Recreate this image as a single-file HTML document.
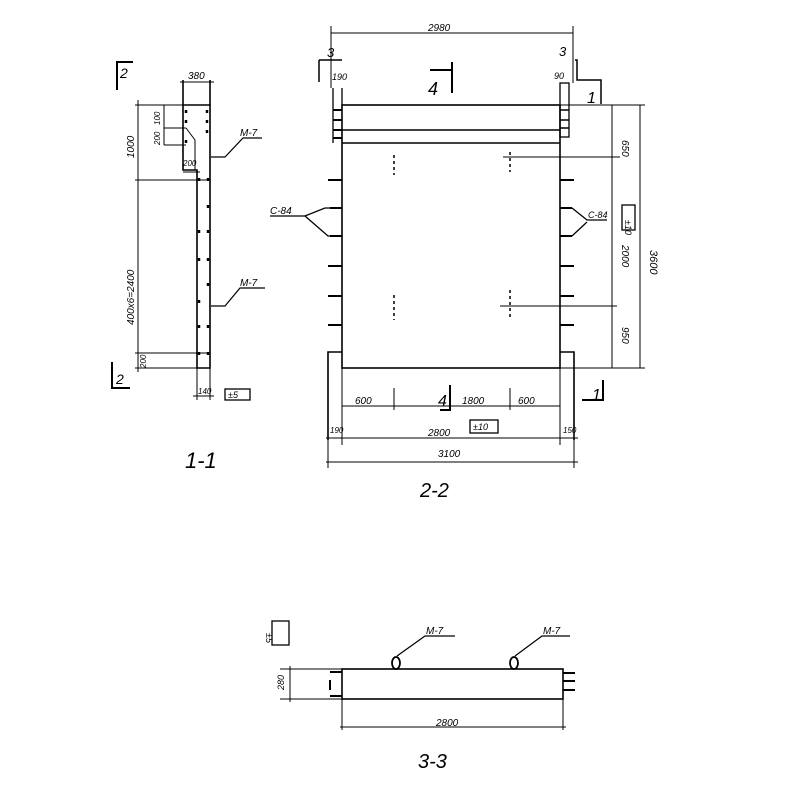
<!DOCTYPE html>
<html><head><meta charset="utf-8"><style>
html,body{margin:0;padding:0;background:#fff;}
svg{display:block;}
text{font-family:"Liberation Sans",sans-serif;font-style:italic;fill:#000;}
</style></head><body>
<svg width="800" height="800" viewBox="0 0 800 800" xmlns="http://www.w3.org/2000/svg">
<g stroke="#000" stroke-width="1.6" fill="none">
<!-- ===== Section 1-1 ===== -->
<path d="M183 105 L210 105 L210 368 L197 368 L197 170 L183 170 Z"/>
<line x1="183" y1="105" x2="183" y2="80"/><line x1="210" y1="105" x2="210" y2="80"/>
<line x1="180" y1="82" x2="214" y2="82" stroke-width="1"/>
<line x1="135" y1="105" x2="210" y2="105" stroke-width="1"/>
<line x1="138" y1="100" x2="138" y2="372" stroke-width="1"/>
<line x1="135" y1="180" x2="210" y2="180" stroke-width="1"/>
<line x1="135" y1="353" x2="210" y2="353" stroke-width="1"/>
<line x1="135" y1="368" x2="210" y2="368" stroke-width="1"/>
<line x1="164" y1="105" x2="164" y2="145" stroke-width="1"/>
<line x1="164" y1="128" x2="186" y2="128" stroke-width="1"/>
<line x1="164" y1="145" x2="186" y2="145" stroke-width="1"/>
<path d="M186 128 L195 140 L195 170" stroke-width="1"/>
<line x1="183" y1="172" x2="200" y2="172" stroke-width="1"/>
<line x1="197" y1="368" x2="197" y2="400" stroke-width="1"/><line x1="210" y1="368" x2="210" y2="400" stroke-width="1"/>
<line x1="193" y1="396" x2="214" y2="396" stroke-width="1"/>
<rect x="225" y="389" width="25" height="11" stroke-width="1.3"/>
<path d="M211 157 L225 157 L243 138 L262 138" stroke-width="1.2"/>
<path d="M211 306 L225 306 L240 288 L265 288" stroke-width="1.2"/>
<path d="M117 90 L117 62 L133 62" stroke-width="2"/>
<path d="M112 362 L112 388 L130 388" stroke-width="2"/>
<!-- dots -->
<g stroke-width="2.5">
<line x1="186" y1="110" x2="186" y2="113"/><line x1="186" y1="120" x2="186" y2="123"/><line x1="186" y1="140" x2="186" y2="143"/>
<line x1="207" y1="110" x2="207" y2="113"/><line x1="207" y1="120" x2="207" y2="123"/><line x1="207" y1="130" x2="207" y2="133"/>
<line x1="199" y1="178" x2="199" y2="181"/><line x1="199" y1="230" x2="199" y2="233"/><line x1="199" y1="258" x2="199" y2="261"/><line x1="199" y1="300" x2="199" y2="303"/><line x1="199" y1="325" x2="199" y2="328"/><line x1="199" y1="352" x2="199" y2="355"/>
<line x1="208" y1="178" x2="208" y2="181"/><line x1="208" y1="205" x2="208" y2="208"/><line x1="208" y1="230" x2="208" y2="233"/><line x1="208" y1="258" x2="208" y2="261"/><line x1="208" y1="283" x2="208" y2="286"/><line x1="208" y1="325" x2="208" y2="328"/><line x1="208" y1="352" x2="208" y2="355"/>
</g>

<!-- ===== Section 2-2 ===== -->
<rect x="342" y="105" width="218" height="263"/>
<line x1="342" y1="130" x2="560" y2="130"/>
<line x1="342" y1="143" x2="560" y2="143"/>
<path d="M333 88 L333 143 M342 88 L342 105" stroke-width="1.3"/>
<path d="M333 110 L342 110 M333 120 L342 120 M333 130 L342 130 M333 138 L342 138" stroke-width="2"/>
<rect x="560" y="83" width="9" height="54" stroke-width="1.3"/>
<path d="M560 110 L569 110 M560 120 L569 120 M560 128 L569 128" stroke-width="1.5"/>
<!-- bottom tabs -->
<path d="M342 352 L328 352 L328 440" />
<path d="M560 352 L574 352 L574 440" />
<!-- side ticks -->
<g stroke-width="2">
<line x1="328" y1="180" x2="342" y2="180"/><line x1="328" y1="266" x2="342" y2="266"/><line x1="328" y1="296" x2="342" y2="296"/><line x1="328" y1="325" x2="342" y2="325"/>
<line x1="560" y1="180" x2="574" y2="180"/><line x1="560" y1="266" x2="574" y2="266"/><line x1="560" y1="296" x2="574" y2="296"/><line x1="560" y1="325" x2="574" y2="325"/>
<line x1="330" y1="208" x2="342" y2="208"/><line x1="330" y1="236" x2="342" y2="236"/>
<line x1="560" y1="208" x2="572" y2="208"/><line x1="560" y1="236" x2="572" y2="236"/>
</g>
<path d="M270 216 L305 216 L325 208 L330 208 M305 216 L328 236 L330 236" stroke-width="1.3"/>
<path d="M572 208 L587 220 L607 220 M572 236 L587 222" stroke-width="1.3"/>
<!-- dashed marks -->
<g stroke-width="1.5" stroke-dasharray="3,3">
<line x1="394" y1="155" x2="394" y2="175"/><line x1="510" y1="152" x2="510" y2="172"/>
<line x1="394" y1="295" x2="394" y2="320"/><line x1="510" y1="290" x2="510" y2="318"/>
</g>
<!-- top dim 2980 -->
<line x1="331" y1="33" x2="573" y2="33" stroke-width="1"/>
<line x1="331" y1="26" x2="331" y2="88" stroke-width="1"/><line x1="573" y1="26" x2="573" y2="83" stroke-width="1"/>
<path d="M319 60 L319 82 M319 60 L342 60" stroke-width="1.5"/>
<path d="M575 60 L577 60 L577 80 L590 80 L601 80 L601 104" stroke-width="1.5"/>
<path d="M430 70 L452 70 M452 62 L452 93" stroke-width="2"/>
<!-- right dims -->
<line x1="560" y1="105" x2="645" y2="105" stroke-width="1"/>
<line x1="612" y1="105" x2="612" y2="368" stroke-width="1"/>
<line x1="640" y1="105" x2="640" y2="368" stroke-width="1"/>
<line x1="503" y1="157" x2="620" y2="157" stroke-width="1"/>
<line x1="500" y1="306" x2="617" y2="306" stroke-width="1"/>
<line x1="560" y1="368" x2="645" y2="368" stroke-width="1"/>
<rect x="622" y="205" width="13" height="25" stroke-width="1.3"/>
<!-- bottom dims -->
<line x1="342" y1="406" x2="560" y2="406" stroke-width="1"/>
<line x1="394" y1="388" x2="394" y2="410" stroke-width="1"/><line x1="510" y1="388" x2="510" y2="410" stroke-width="1"/>
<line x1="342" y1="368" x2="342" y2="445" stroke-width="1"/><line x1="560" y1="368" x2="560" y2="445" stroke-width="1"/>
<line x1="326" y1="438" x2="578" y2="438" stroke-width="1"/>
<line x1="326" y1="462" x2="578" y2="462" stroke-width="1"/>
<line x1="328" y1="440" x2="328" y2="468" stroke-width="1"/><line x1="574" y1="440" x2="574" y2="468" stroke-width="1"/>
<path d="M450 385 L450 410 L440 410" stroke-width="2"/>
<path d="M603 380 L603 400 L582 400" stroke-width="2"/>
<rect x="470" y="420" width="28" height="13" stroke-width="1.3"/>

<!-- ===== Section 3-3 ===== -->
<rect x="342" y="669" width="221" height="30"/>
<line x1="280" y1="669" x2="342" y2="669" stroke-width="1"/>
<line x1="280" y1="699" x2="342" y2="699" stroke-width="1"/>
<line x1="290" y1="666" x2="290" y2="702" stroke-width="1"/>
<line x1="342" y1="699" x2="342" y2="730" stroke-width="1"/>
<line x1="563" y1="699" x2="563" y2="730" stroke-width="1"/>
<line x1="340" y1="727" x2="566" y2="727" stroke-width="1"/>
<path d="M330 672 L342 672 M330 696 L342 696 M330 680 L330 690" stroke-width="2"/>
<path d="M563 673 L575 673 M563 681 L575 681 M563 690 L575 690" stroke-width="2"/>
<rect x="272" y="621" width="17" height="24" stroke-width="1.3"/>
<ellipse cx="396" cy="663" rx="4" ry="6" stroke-width="1.8"/>
<ellipse cx="514" cy="663" rx="4" ry="6" stroke-width="1.8"/>
<path d="M397 656 L425 636 L455 636 M515 656 L542 636 L570 636" stroke-width="1.2"/>
</g>
<g font-size="10">
<text x="188" y="79">380</text>
<text x="134" y="158" transform="rotate(-90 134 158)">1000</text>
<text x="134" y="325" transform="rotate(-90 134 325)">400x6=2400</text>
<text x="160" y="125" font-size="8" transform="rotate(-90 160 125)">100</text>
<text x="160" y="145" font-size="8" transform="rotate(-90 160 145)">200</text>
<text x="183" y="166" font-size="8">200</text>
<text x="146" y="368" font-size="8" transform="rotate(-90 146 368)">200</text>
<text x="198" y="394" font-size="8">140</text>
<text x="228" y="398" font-size="9">±5</text>
<text x="240" y="136">M-7</text>
<text x="240" y="286">M-7</text>
<text x="120" y="78" font-size="14">2</text>
<text x="116" y="384" font-size="14">2</text>
<text x="185" y="468" font-size="22">1-1</text>
<text x="428" y="31">2980</text>
<text x="327" y="57" font-size="13">3</text>
<text x="559" y="56" font-size="13">3</text>
<text x="332" y="80" font-size="9">190</text>
<text x="554" y="79" font-size="9">90</text>
<text x="428" y="95" font-size="18">4</text>
<text x="587" y="103" font-size="16">1</text>
<text x="270" y="214">C-84</text>
<text x="588" y="218" font-size="9">C-84</text>
<text x="622" y="140" transform="rotate(90 622 140)" font-size="10">650</text>
<text x="622" y="245" transform="rotate(90 622 245)" font-size="10">2000</text>
<text x="622" y="327" transform="rotate(90 622 327)" font-size="10">950</text>
<text x="650" y="250" transform="rotate(90 650 250)" font-size="11">3600</text>
<text x="625" y="220" font-size="9" transform="rotate(90 625 220)">±10</text>
<text x="355" y="404">600</text>
<text x="462" y="404">1800</text>
<text x="518" y="404">600</text>
<text x="438" y="406" font-size="16">4</text>
<text x="592" y="400" font-size="16">1</text>
<text x="330" y="433" font-size="8">190</text>
<text x="563" y="433" font-size="8">150</text>
<text x="428" y="436">2800</text>
<text x="473" y="430" font-size="9">±10</text>
<text x="438" y="457">3100</text>
<text x="420" y="497" font-size="20">2-2</text>
<text x="275" y="642" font-size="9" transform="rotate(90 275 633)">±5</text>
<text x="284" y="690" font-size="9" transform="rotate(-90 284 690)">280</text>
<text x="426" y="634">M-7</text>
<text x="543" y="634">M-7</text>
<text x="436" y="726">2800</text>
<text x="418" y="768" font-size="20">3-3</text>
</g>
</svg>
</body></html>
